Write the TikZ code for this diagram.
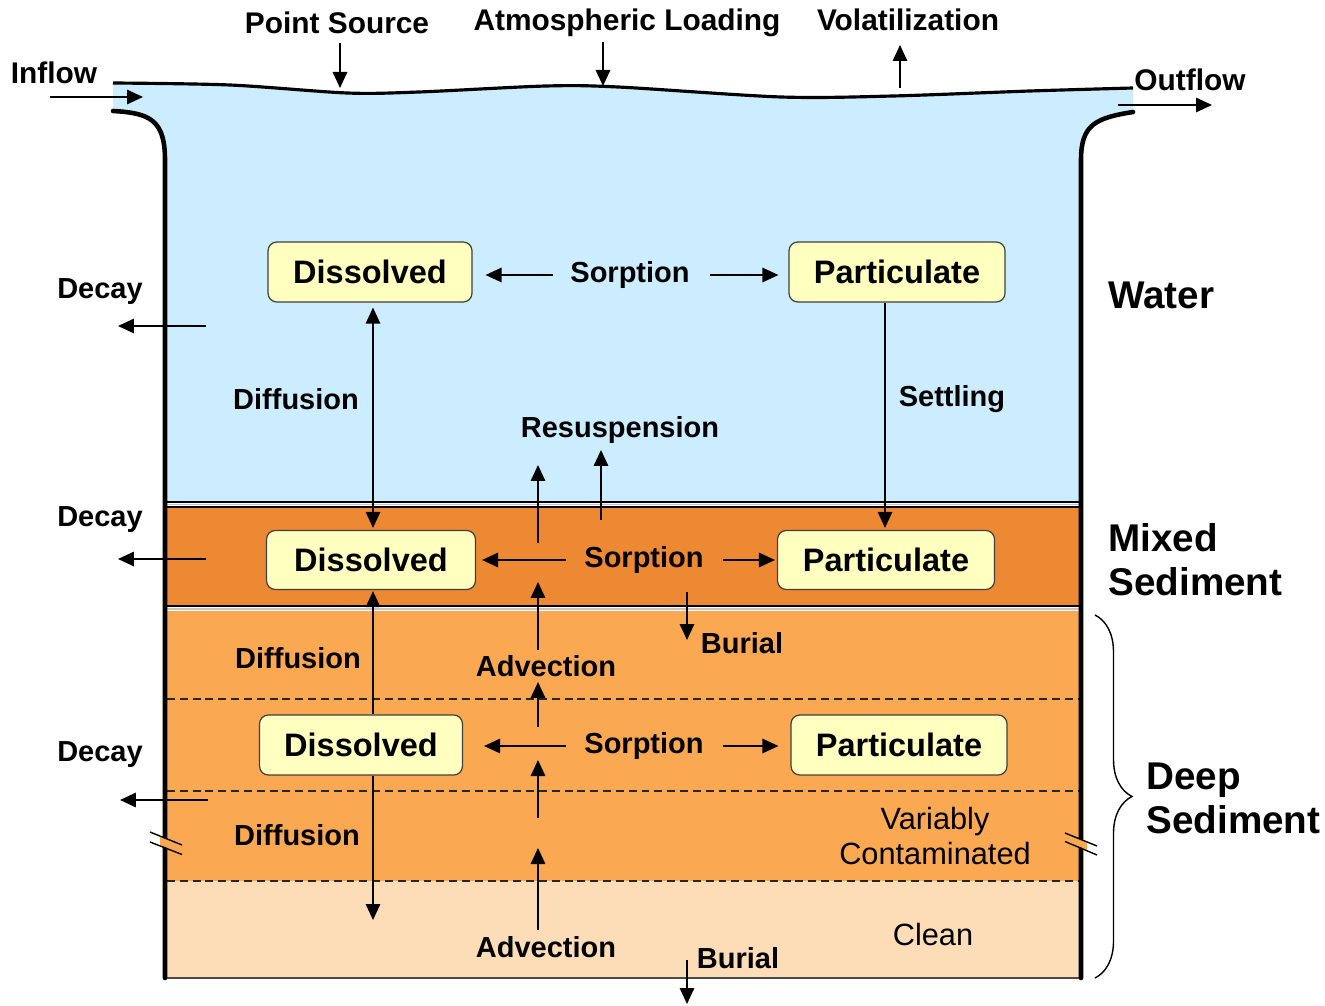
\documentclass[tikz,border=0pt]{standalone}
\usepackage{fontspec}
\setmainfont{Liberation Sans}
\usetikzlibrary{arrows.meta,calc,decorations.pathreplacing}
\definecolor{waterc}{RGB}{204,236,255}
\definecolor{mixedc}{RGB}{238,137,51}
\definecolor{deepc}{RGB}{251,168,82}
\definecolor{cleanc}{RGB}{253,221,184}
\definecolor{boxc}{RGB}{255,255,192}
\begin{document}
\begin{tikzpicture}[x=0.02cm,y=-0.02cm,
  lbl/.style={font=\fontsize{16.5}{19}\selectfont\bfseries, inner sep=0pt},
  reg/.style={font=\fontsize{17.5}{20}\selectfont, inner sep=0pt, align=center},
  big/.style={font=\fontsize{22}{25}\selectfont\bfseries, align=left, anchor=west, inner sep=0pt},
  cbox/.style={draw=black!75, line width=0.7pt, fill=boxc, rounded corners=5pt,
    minimum height=1.2cm, inner sep=0pt, font=\fontsize{18.5}{20}\selectfont\bfseries},
  arr/.style={-{Triangle[length=0.32cm,width=0.29cm]}, line width=0.85pt},
  arrb/.style={{Triangle[length=0.32cm,width=0.29cm]}-{Triangle[length=0.32cm,width=0.29cm]}, line width=0.85pt},
  wall/.style={line width=2.6pt, line cap=round},
  dline/.style={dash pattern=on 4.5pt off 2.8pt, line width=1.2pt, black!85}]
\useasboundingbox (0,0) rectangle (1325,1006);

% ---- layers ----
\fill[waterc] plot[smooth] coordinates {(113,83) (230,85) (347,93) (419,92) (546,86) (618,87) (781,97) (893,96) (1030,91) (1133,88)}
  -- (1133,112) .. controls (1095,118) and (1081,125) .. (1081,160) -- (1081,502) -- (165,502)
  -- (165,160) .. controls (165,120) and (150,113) .. (113,111) -- cycle;
\fill[mixedc] (165,507) rectangle (1081,607);
\fill[deepc] (165,611) rectangle (1081,881);
\fill[cleanc] (165,881) rectangle (1081,978);
\draw[line width=1.4pt] (165,502) -- (1081,502);
\draw[gray!45, line width=1pt] (165,504.5) -- (1081,504.5);
\draw[line width=1.4pt] (165,507) -- (1081,507) (165,606) -- (1081,606);
\draw[gray!45, line width=1pt] (165,608.7) -- (1081,608.7);
\draw[dline] (167,699) -- (1079,699);
\draw[dline] (167,791) -- (1079,791);
\draw[dline] (167,881) -- (1079,881);
\draw[line width=0.8pt, black!70] (165,978) -- (1081,978);

% ---- surface and walls ----
\draw[line width=1.8pt] plot[smooth] coordinates {(113,83) (230,85) (347,93) (419,92) (546,86) (618,87) (781,97) (893,96) (1030,91) (1133,88)};
\draw[wall] (113,111) .. controls (150,113) and (165,120) .. (165,160) -- (165,978);
\draw[wall] (1133,112) .. controls (1095,118) and (1081,125) .. (1081,160) -- (1081,978);

% ---- break marks ----
\fill[deepc] (160,836.5) -- (171,841) -- (171,849.5) -- (160,845) -- cycle;
\draw[line width=0.8pt] (150,832) -- (182,845) (150,842) -- (182,854.5);
\fill[deepc] (1075,837.5) -- (1087,842.5) -- (1087,850) -- (1075,845) -- cycle;
\draw[line width=0.8pt] (1065,833) -- (1097,846) (1065,841.5) -- (1097,855);

% ---- brace ----
\draw[decorate, decoration={brace, amplitude=0.74cm}, line width=0.8pt] (1095,615) -- (1095,978);

% ---- boxes ----
\node[cbox, minimum width=4.08cm] (wd) at (370,272) {Dissolved};
\node[cbox, minimum width=4.32cm] (wp) at (897,272) {Particulate};
\node[cbox, minimum width=4.18cm, minimum height=1.18cm] (md) at (371,560) {Dissolved};
\node[cbox, minimum width=4.34cm, minimum height=1.18cm] (mp) at (886,560) {Particulate};
\node[cbox, minimum width=4.06cm] (dd) at (361,745) {Dissolved};
\node[cbox, minimum width=4.32cm] (dp) at (899,745) {Particulate};

% ---- sorption ----
\node[lbl] (ws) at (630,275) {Sorption};
\node[lbl] (ms) at (644,560) {Sorption};
\node[lbl] (ds) at (644,746) {Sorption};
\draw[arr, shorten <=0.34cm, shorten >=0.26cm] (ws.west) -- (ws.west -| wd.east);
\draw[arr, shorten <=0.4cm, shorten >=0.2cm] (ws.east) -- (ws.east -| wp.west);
\draw[arr, shorten <=0.36cm, shorten >=0.12cm] (ms.west) -- (ms.west -| md.east);
\draw[arr, shorten <=0.38cm, shorten >=0.04cm] (ms.east) -- (ms.east -| mp.west);
\draw[arr, shorten <=0.36cm, shorten >=0.42cm] (ds.west) -- (ds.west -| dd.east);
\draw[arr, shorten <=0.38cm, shorten >=0.24cm] (ds.east) -- (ds.east -| dp.west);

% ---- diffusion / settling ----
\draw[arrb, shorten <=0.1cm, shorten >=0.04cm] ($(wd.south)+(3,0)$) -- ($(md.north)+(2,0)$);
\node[lbl] (dif1) at (296,399) {Diffusion};
\draw[arr, shorten >=0.04cm] ($(wp.south)+(-12,0)$) -- ($(mp.north)+(-1,0)$);
\node[lbl] (set) at (952,399) {Settling};
\draw[arr, shorten >=0.02cm] ($(dd.north)+(12,0)$) -- ($(md.south)+(2,0)$);
\node[lbl] (dif2) at (298,658) {Diffusion};
\coordinate (dbot) at (373,920);
\draw[arr] ($(dd.south)+(12,0)$) -- (dbot);
\node[lbl] (dif3) at (297,835) {Diffusion};

% ---- resuspension ----
\node[lbl] (res) at (620,430) {Resuspension};
\coordinate (r1s) at (538,543); \coordinate (r1e) at (538,465);
\coordinate (r2s) at (601,520); \coordinate (r2e) at (601,450);
\draw[arr] (r1s) -- (r1e);
\draw[arr] (r2s) -- (r2e);

% ---- advection ----
\node[lbl] (adv1) at (546,666) {Advection};
\node[lbl] (adv2) at (546,947) {Advection};
\coordinate (a1s) at (538,650); \coordinate (a1e) at (538,582);
\coordinate (a2s) at (538,727); \coordinate (a2e) at (538,682);
\coordinate (a3s) at (538,818); \coordinate (a3e) at (538,760);
\coordinate (a4s) at (538,930); \coordinate (a4e) at (538,848);
\draw[arr] (a1s) -- (a1e);
\draw[arr] (a2s) -- (a2e);
\draw[arr] (a3s) -- (a3e);
\draw[arr] (a4s) -- (a4e);

% ---- burial ----
\node[lbl] (bur1) at (742,643) {Burial};
\node[lbl] (bur2) at (738,958) {Burial};
\coordinate (b1s) at (687,592); \coordinate (b1e) at (687,640);
\coordinate (b2s) at (687,960); \coordinate (b2e) at (687,1004);
\draw[arr] (b1s) -- (b1e);
\draw[arr] (b2s) -- (b2e);

% ---- decay ----
\node[lbl] (dec1) at (100,292) {Decay};
\node[lbl] (dec2) at (100,520) {Decay};
\node[lbl] (dec3) at (100,755) {Decay};
\coordinate (k1s) at (206,326); \coordinate (k1e) at (118,326);
\coordinate (k2s) at (206,559); \coordinate (k2e) at (118,559);
\coordinate (k3s) at (208,800); \coordinate (k3e) at (120,800);
\draw[arr] (k1s) -- (k1e);
\draw[arr] (k2s) -- (k2e);
\draw[arr] (k3s) -- (k3e);

% ---- top ----
\node[lbl, font=\fontsize{17}{19}\selectfont\bfseries] (ps) at (337,23) {Point Source};
\node[lbl, font=\fontsize{17}{19}\selectfont\bfseries] (al) at (627,23) {Atmospheric Loading};
\node[lbl, font=\fontsize{17}{19}\selectfont\bfseries] (vo) at (908,20) {Volatilization};
\coordinate (ps1) at (340,43); \coordinate (ps2) at (340,88);
\coordinate (al1) at (603,42); \coordinate (al2) at (603,86);
\coordinate (vo1) at (900,88); \coordinate (vo2) at (900,45);
\draw[arr] (ps1) -- (ps2);
\draw[arr] (al1) -- (al2);
\draw[arr] (vo1) -- (vo2);
\node[lbl, font=\fontsize{17}{19}\selectfont\bfseries] (inf) at (54,73) {Inflow};
\node[lbl, font=\fontsize{17}{19}\selectfont\bfseries] (outf) at (1190,80) {Outflow};
\coordinate (in1) at (50,97); \coordinate (in2) at (143,97);
\coordinate (out1) at (1118,105); \coordinate (out2) at (1212,105);
\draw[arr] (in1) -- (in2);
\draw[arr] (out1) -- (out2);

% ---- side labels ----
\node[big] (wat) at (1108,295) {Water};
\node[big] (mix) at (1108,560) {Mixed\\Sediment};
\node[big] (deep) at (1146,798) {Deep\\Sediment};
\node[reg] (var) at (935,836) {Variably\\Contaminated};
\node[reg] (cln) at (933,935) {Clean};
\end{tikzpicture}
\end{document}
